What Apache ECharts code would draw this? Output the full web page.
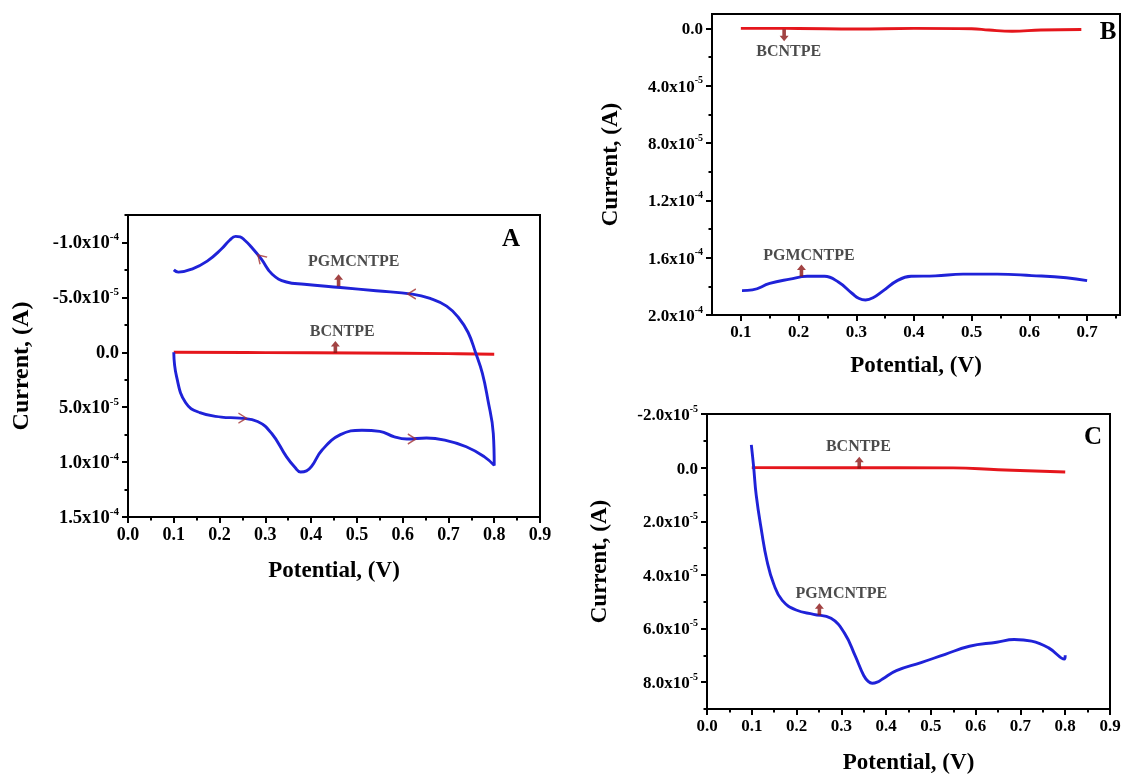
<!DOCTYPE html>
<html><head><meta charset="utf-8">
<script src="https://cdn.jsdelivr.net/npm/echarts@6/dist/echarts.min.js"></script>
<style>html,body{margin:0;padding:0;background:#fff}#c{width:1131px;height:776px}</style>
</head><body><div id="c"></div>
<script>
// ---------- Panel A : cyclic voltammogram ----------
const aPgmX = [0.10,0.106,0.126,0.157,0.204,0.244,0.283,0.314,0.346,0.365,0.377,0.39,0.401,0.424,0.464,0.511,0.55,0.582,0.609,0.652,0.692,0.739,0.778,0.80,
               0.798,0.786,0.774,0.759,0.743,0.723,0.696,0.66,0.621,0.542,0.464,0.385,0.346,0.315,0.291,0.267,0.255,0.245,0.235,0.222,0.204,0.173,0.141,0.11,0.10];
const aPgmY = [0,2.2e-5,4.6e-5,5.5e-5,5.9e-5,6.0e-5,6.3e-5,7.4e-5,9.5e-5,10.5e-5,10.9e-5,10.8e-5,10.4e-5,8.9e-5,7.5e-5,7.1e-5,7.2e-5,7.7e-5,7.9e-5,7.8e-5,8.0e-5,8.6e-5,9.5e-5,10.3e-5,
               7.4e-5,4.3e-5,1.9e-5,0,-1.8e-5,-3.1e-5,-4.2e-5,-4.9e-5,-5.3e-5,-5.6e-5,-5.9e-5,-6.2e-5,-6.4e-5,-7.1e-5,-8.5e-5,-9.7e-5,-10.2e-5,-10.5e-5,-10.55e-5,-10.2e-5,-9.4e-5,-8.3e-5,-7.6e-5,-7.3e-5,-7.5e-5];
const aBcnX = [0.10,0.30,0.50,0.70,0.80];
const aBcnY = [0,0.3e-6,0.6e-6,1.2e-6,1.8e-6];
const aXTicks = [0,0.1,0.2,0.3,0.4,0.5,0.6,0.7,0.8,0.9];
const aXMinor = [0.05,0.15,0.25,0.35,0.45,0.55,0.65,0.75,0.85];
const aYTicks = [-1e-4,-5e-5,0,5e-5,1e-4,1.5e-4];
const aYLabels = ['-1.0x10^-4','-5.0x10^-5','0.0','5.0x10^-5','1.0x10^-4','1.5x10^-4'];
const aYMinor = [-1.25e-4,-7.5e-5,-2.5e-5,2.5e-5,7.5e-5,1.25e-4];
const aScanArrows = [[0.25,6.0e-5,0],[0.62,7.9e-5,0],[0.29,-8.6e-5,135],[0.62,-5.3e-5,180]];
const aPointers = [[0.46,-6.55e-5,0],[0.453,-0.48e-5,0]];
const aTexts = [['PGMCNTPE',0.493,-8.2e-5],['BCNTPE',0.468,-1.9e-5]];

// ---------- Panel B ----------
const bPgmX = [0.102,0.12,0.15,0.185,0.215,0.245,0.269,0.293,0.305,0.316,0.329,0.347,0.371,0.395,0.437,0.485,0.544,0.604,0.664,0.70];
const bPgmY = [1.83e-4,1.825e-4,1.78e-4,1.75e-4,1.73e-4,1.73e-4,1.77e-4,1.85e-4,1.885e-4,1.895e-4,1.88e-4,1.83e-4,1.76e-4,1.73e-4,1.727e-4,1.715e-4,1.715e-4,1.725e-4,1.74e-4,1.76e-4];
const bBcnX = [0.10,0.20,0.30,0.40,0.50,0.53,0.57,0.62,0.69];
const bBcnY = [0,0.1e-6,0.5e-6,0,0.3e-6,1.2e-6,2.0e-6,1.2e-6,0.8e-6];
const bXTicks = [0.1,0.2,0.3,0.4,0.5,0.6,0.7];
const bXMinor = [0.15,0.25,0.35,0.45,0.55,0.65,0.75];
const bYTicks = [0,4e-5,8e-5,1.2e-4,1.6e-4,2e-4];
const bYLabels = ['0.0','4.0x10^-5','8.0x10^-5','1.2x10^-4','1.6x10^-4','2.0x10^-4'];
const bYMinor = [2e-5,6e-5,1e-4,1.4e-4,1.8e-4];
const bPointers = [[0.175,0.49e-5,180],[0.205,1.69e-4,0]];
const bTexts = [['BCNTPE',0.183,1.65e-5],['PGMCNTPE',0.218,1.59e-4]];

// ---------- Panel C ----------
const cPgmX = [0.099,0.104,0.11,0.122,0.134,0.149,0.168,0.199,0.238,0.277,0.307,0.331,0.35,0.36,0.369,0.38,0.392,0.423,0.478,0.532,0.586,0.647,0.686,0.725,0.763,0.798,0.80];
const cPgmY = [-0.85e-5,-0.06e-5,1.04e-5,2.38e-5,3.48e-5,4.34e-5,4.95e-5,5.31e-5,5.47e-5,5.62e-5,6.17e-5,7.02e-5,7.75e-5,7.97e-5,8.04e-5,8.0e-5,7.88e-5,7.57e-5,7.27e-5,6.96e-5,6.66e-5,6.51e-5,6.41e-5,6.47e-5,6.72e-5,7.14e-5,7.0e-5];
const cBcnX = [0.10,0.30,0.55,0.65,0.80];
const cBcnY = [0,0.05e-6,0.1e-6,0.8e-6,1.6e-6];
const cXTicks = [0,0.1,0.2,0.3,0.4,0.5,0.6,0.7,0.8,0.9];
const cXMinor = [0.05,0.15,0.25,0.35,0.45,0.55,0.65,0.75,0.85];
const cYTicks = [-2e-5,0,2e-5,4e-5,6e-5,8e-5];
const cYLabels = ['-2.0x10^-5','0.0','2.0x10^-5','4.0x10^-5','6.0x10^-5','8.0x10^-5'];
const cYMinor = [-1e-5,1e-5,3e-5,5e-5,7e-5,9e-5];
const cPointers = [[0.34,-0.18e-5,0],[0.251,5.28e-5,0]];
const cTexts = [['BCNTPE',0.338,-0.79e-5],['PGMCNTPE',0.30,4.7e-5]];

// ---------- styling helpers ----------
const FF = '"Liberation Serif","Times New Roman",serif';
const BLUE = '#1f22d8', RED = '#e5161c', DARKRED = '#8b1414';
const zip = (xs, ys) => xs.map((x, i) => [x, ys[i]]);
function makeRich(fs) {
  return {
    m: {fontFamily: FF, fontWeight: 'bold', fontSize: fs, color: '#000', lineHeight: fs + 3, verticalAlign: 'bottom'},
    s: {fontFamily: FF, fontWeight: 'bold', fontSize: Math.round(fs * 0.6), color: '#000', lineHeight: Math.round(fs * 0.6), verticalAlign: 'top'}
  };
}
function richLabel(str) {
  const p = str.split('^');
  return p.length > 1 ? '{m|' + p[0] + '}{s|' + p[1] + '}' : '{m|' + p[0] + '}';
}
function yFmt(ticks, labels) {
  return v => { const i = ticks.findIndex(t => Math.abs(t - v) < 1e-9); return i < 0 ? '' : richLabel(labels[i]); };
}
const nameStyle = fs => ({fontFamily: FF, fontWeight: 'bold', fontSize: fs, color: '#000'});
function xAxes(gi, min, max, ticks, minor, gap, fs, nfs) {
  return [
    {type: 'value', gridIndex: gi, min, max, position: 'bottom',
     axisLine: {show: true, onZero: false, lineStyle: {color: '#000', width: 2}},
     axisTick: {show: true, inside: false, length: 6, lineStyle: {color: '#000', width: 2}, customValues: ticks},
     axisLabel: {show: true, customValues: ticks, formatter: v => v.toFixed(1), margin: 9,
                 fontFamily: FF, fontWeight: 'bold', fontSize: fs, color: '#000'},
     splitLine: {show: false}, minorTick: {show: false},
     name: 'Potential, (V)', nameLocation: 'middle', nameGap: gap, nameTextStyle: nameStyle(nfs)},
    {type: 'value', gridIndex: gi, min, max, position: 'bottom',
     axisLine: {show: false, onZero: false},
     axisTick: {show: true, inside: false, length: 3.5, lineStyle: {color: '#000', width: 2}, customValues: minor},
     axisLabel: {show: false}, splitLine: {show: false}}
  ];
}
function yAxes(gi, min, max, ticks, labels, minor, gap, fs, nfs) {
  return [
    {type: 'value', gridIndex: gi, min, max, inverse: true, position: 'left',
     axisLine: {show: true, onZero: false, lineStyle: {color: '#000', width: 2}},
     axisTick: {show: true, inside: false, length: 6, lineStyle: {color: '#000', width: 2}, customValues: ticks},
     axisLabel: {show: true, customValues: ticks, formatter: yFmt(ticks, labels), margin: 9, rich: makeRich(fs)},
     splitLine: {show: false}, minorTick: {show: false},
     name: 'Current, (A)', nameLocation: 'middle', nameGap: gap, nameTextStyle: nameStyle(nfs)},
    {type: 'value', gridIndex: gi, min, max, inverse: true, position: 'left',
     axisLine: {show: false, onZero: false},
     axisTick: {show: true, inside: false, length: 3.5, lineStyle: {color: '#000', width: 2}, customValues: minor},
     axisLabel: {show: false}, splitLine: {show: false}}
  ];
}
function line(ai, xs, ys, color, z) {
  return {type: 'line', xAxisIndex: ai, yAxisIndex: ai, data: zip(xs, ys), showSymbol: false, smooth: 0.45,
          lineStyle: {color, width: 2.9}, itemStyle: {color}, z, silent: true};
}
const ARROW = 'path://M5,0L10,5.5L7,5.5L7,12L3,12L3,5.5L0,5.5Z';
function pointers(ai, pts) {
  return {type: 'scatter', xAxisIndex: ai, yAxisIndex: ai, symbol: ARROW, symbolSize: [9, 12], z: 5, silent: true,
          itemStyle: {color: DARKRED},
          data: pts.map(p => ({value: [p[0], p[1]], symbolRotate: p[2]}))};
}
function texts(ai, arr, fs) {
  return {type: 'scatter', xAxisIndex: ai, yAxisIndex: ai, symbolSize: 0, z: 6, silent: true,
          label: {show: true, position: 'inside', formatter: '{b}', fontFamily: FF, fontWeight: 'bold', fontSize: fs, color: '#1e1e1e'},
          data: arr.map(t => ({name: t[0], value: [t[1], t[2]]}))};
}
const CHEV = 'path://M0,0L10,6L0,12';
const scanArrows = {type: 'scatter', xAxisIndex: 0, yAxisIndex: 0, symbol: CHEV, symbolSize: [8, 10], z: 4, silent: true,
  itemStyle: {color: 'rgba(0,0,0,0)', borderColor: '#a33030', borderWidth: 1.4},
  data: aScanArrows.map(p => ({value: [p[0], p[1]], symbolRotate: p[2]}))};

const gridBase = {show: true, borderColor: '#000', borderWidth: 2, backgroundColor: 'rgba(0,0,0,0)', containLabel: false};
const letter = (t, x, y) => ({type: 'text', x, y, style: {text: t, fill: '#000', font: 'bold 25px ' + FF,
  textAlign: 'center', textVerticalAlign: 'middle', align: 'center', verticalAlign: 'middle'}});
const option = {
  animation: false,
  backgroundColor: '#fff',
  grid: [
    Object.assign({left: 128, top: 215, width: 412, height: 302}, gridBase),
    Object.assign({left: 712, top: 14, width: 408, height: 301}, gridBase),
    Object.assign({left: 707, top: 414, width: 403, height: 299}, gridBase)
  ],
  xAxis: [].concat(
    xAxes(0, 0, 0.9, aXTicks, aXMinor, 43, 18, 23),
    xAxes(1, 0.05, 0.757, bXTicks, bXMinor, 40, 17, 23),
    xAxes(2, 0, 0.9, cXTicks, cXMinor, 43, 17, 23)),
  yAxis: [].concat(
    yAxes(0, -1.25e-4, 1.5e-4, aYTicks, aYLabels, aYMinor, 94, 18.5, 24),
    yAxes(1, -1e-5, 2e-4, bYTicks, bYLabels, bYMinor, 89, 17, 23),
    yAxes(2, -2e-5, 9e-5, cYTicks, cYLabels, cYMinor, 95, 17, 23)),
  series: [
    line(0, aBcnX, aBcnY, RED, 2),
    line(0, aPgmX, aPgmY, BLUE, 3),
    scanArrows,
    pointers(0, aPointers),
    texts(0, aTexts, 16),
    line(2, bBcnX, bBcnY, RED, 2),
    line(2, bPgmX, bPgmY, BLUE, 3),
    pointers(2, bPointers),
    texts(2, bTexts, 16),
    line(4, cBcnX, cBcnY, RED, 2),
    line(4, cPgmX, cPgmY, BLUE, 3),
    pointers(4, cPointers),
    texts(4, cTexts, 16)
  ],
  graphic: [letter('A', 511, 240), letter('B', 1108, 33), letter('C', 1093, 438)]
};
const chart = echarts.init(document.getElementById('c'), null, {renderer: 'canvas'});
chart.setOption(option);
</script>
</body></html>
